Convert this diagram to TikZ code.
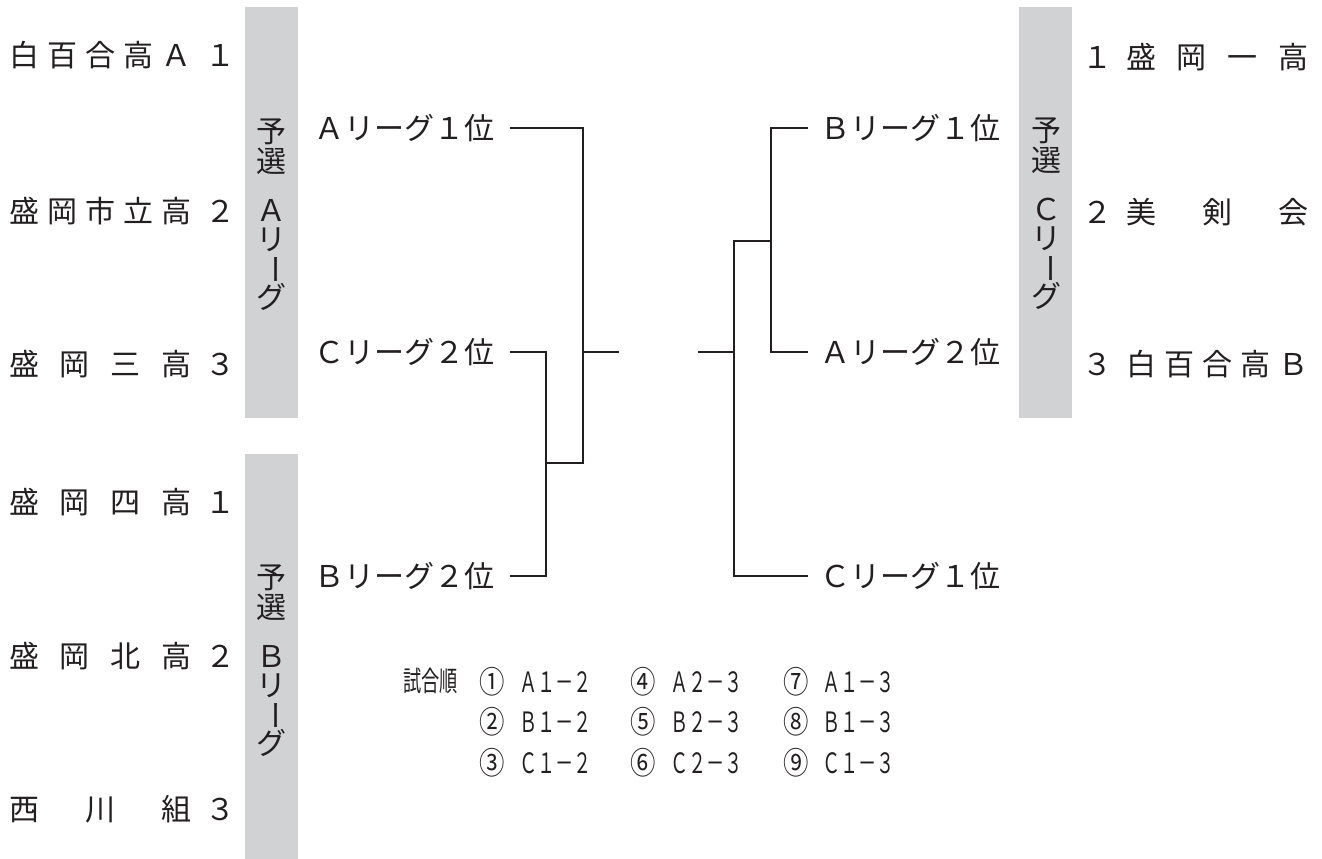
\documentclass[tikz,border=0pt]{standalone}
\usepackage{fontspec}
\usepackage{graphicx}
\newfontfamily\cjk{Noto Sans CJK JP}
\newfontfamily\cjkn{Noto Sans CJK JP}[FakeStretch=0.65]
\newfontfamily\cjkc{Noto Sans CJK JP}[FakeStretch=0.82]
\definecolor{bargray}{RGB}{209,210,212}
\definecolor{ink}{RGB}{35,31,32}
\tikzset{
  team/.style={font=\cjk\fontsize{30}{30}\selectfont, inner sep=0pt, text=ink},
  lab/.style={font=\cjk\fontsize{30}{30}\selectfont, inner sep=0pt, text=ink},
  vch/.style={font=\cjk\fontsize{30}{30}\selectfont, inner sep=0pt, text=ink},
  bar/.style={fill=bargray, draw=none},
  br/.style={draw=ink, line width=1.3pt},
  ord/.style={font=\cjkn\fontsize{28}{28}\selectfont, inner sep=0pt, text=ink},
  circ/.style={font=\cjkc\fontsize{31}{31}\selectfont, inner sep=0pt, text=ink},
}
\newcommand\gp{\hfill{}}
\newcommand\myvlab[4]{%
  \node[vch] (#1a) at (#2,#3) {予};
  \node[vch] (#1b) at (#2,#3+29) {選};
  \node[vch] (#1c) at (#2,#3+78) {#4};
  \node[vch] (#1d) at (#2,#3+108) {リ};
  \node[vch] (#1e) at (#2,#3+137) {\rotatebox[origin=c]{-90}{ー}};
  \node[vch] (#1f) at (#2,#3+165) {グ};
}
\begin{document}
\begin{tikzpicture}[x=1pt,y=-1pt]
\useasboundingbox (0,0) rectangle (1322,859);
% grey bars
\fill[bar] (245,7) rectangle (298,418);
\fill[bar] (245,454) rectangle (298,859);
\fill[bar] (1019,7) rectangle (1072,418);
% bar labels
\myvlab{va}{271}{132}{Ａ}
\myvlab{vb}{271}{578}{Ｂ}
\myvlab{vc}{1046}{131}{Ｃ}
% left teams
\node[team, anchor=west] (ta1) at (9,55) {\makebox[182pt]{白\gp 百\gp 合\gp 高\gp Ａ}};
\node[team] (na1) at (220,55) {１};
\node[team, anchor=west] (ta2) at (9,211) {\makebox[182pt]{盛\gp 岡\gp 市\gp 立\gp 高}};
\node[team] (na2) at (220,211) {２};
\node[team, anchor=west] (ta3) at (9,364) {\makebox[182pt]{盛\gp 岡\gp 三\gp 高}};
\node[team] (na3) at (220,364) {３};
\node[team, anchor=west] (tb1) at (9,502) {\makebox[182pt]{盛\gp 岡\gp 四\gp 高}};
\node[team] (nb1) at (220,502) {１};
\node[team, anchor=west] (tb2) at (9,656) {\makebox[182pt]{盛\gp 岡\gp 北\gp 高}};
\node[team] (nb2) at (220,656) {２};
\node[team, anchor=west] (tb3) at (9,809) {\makebox[182pt]{西\gp 川\gp 組}};
\node[team] (nb3) at (220,809) {３};
% right teams
\node[team] (nc1) at (1097,57) {１};
\node[team, anchor=west] (tc1) at (1126,57) {\makebox[182pt]{盛\gp 岡\gp 一\gp 高}};
\node[team] (nc2) at (1097,212) {２};
\node[team, anchor=west] (tc2) at (1126,212) {\makebox[182pt]{美\gp 剣\gp 会}};
\node[team] (nc3) at (1097,364) {３};
\node[team, anchor=west] (tc3) at (1126,364) {\makebox[182pt]{白\gp 百\gp 合\gp 高\gp Ｂ}};
% bracket labels
\node[lab, anchor=east] (L1) at (495,128) {Ａリーグ１位};
\node[lab, anchor=east] (L2) at (495,352) {Ｃリーグ２位};
\node[lab, anchor=east] (L3) at (495,576) {Ｂリーグ２位};
\node[lab, anchor=west] (R1) at (820,128) {Ｂリーグ１位};
\node[lab, anchor=west] (R2) at (820,352) {Ａリーグ２位};
\node[lab, anchor=west] (R3) at (820,576) {Ｃリーグ１位};
% junction coordinates
\coordinate (jL) at (583,463);
\coordinate (jL2) at (546,463);
\coordinate (mL) at (583,352);
\coordinate (oL) at (619,352);
\coordinate (jRi) at (771,241);
\coordinate (jR) at (734,241);
\coordinate (mR) at (734,352);
\coordinate (oR) at (698,352);
% left bracket
\draw[br] ([xshift=15pt]L1.east) -| (jL) -- (jL2);
\draw[br] ([xshift=15pt]L2.east) -| (jL2) |- ([xshift=15pt]L3.east);
\draw[br] (mL) -- (oL);
% right bracket
\draw[br] ([xshift=-12pt]R1.west) -| (jRi) |- ([xshift=-12pt]R2.west);
\draw[br] (jRi) -- (jR) |- ([xshift=-12pt]R3.west);
\draw[br] (mR) -- (oR);
% match order
\node[ord, anchor=west] (o0) at (403,681) {試合順};
\node[circ] (c1) at (492,682) {①};
\node[ord, anchor=west] (m1) at (519,682) {Ａ１－２};
\node[circ] (c2) at (492,722) {②};
\node[ord, anchor=west] (m2) at (519,722) {Ｂ１－２};
\node[circ] (c3) at (492,763) {③};
\node[ord, anchor=west] (m3) at (519,763) {Ｃ１－２};
\node[circ] (c4) at (643,682) {④};
\node[ord, anchor=west] (m4) at (670,682) {Ａ２－３};
\node[circ] (c5) at (643,722) {⑤};
\node[ord, anchor=west] (m5) at (670,722) {Ｂ２－３};
\node[circ] (c6) at (643,763) {⑥};
\node[ord, anchor=west] (m6) at (670,763) {Ｃ２－３};
\node[circ] (c7) at (796,682) {⑦};
\node[ord, anchor=west] (m7) at (822,682) {Ａ１－３};
\node[circ] (c8) at (796,722) {⑧};
\node[ord, anchor=west] (m8) at (822,722) {Ｂ１－３};
\node[circ] (c9) at (796,763) {⑨};
\node[ord, anchor=west] (m9) at (822,763) {Ｃ１－３};
\end{tikzpicture}
\end{document}
